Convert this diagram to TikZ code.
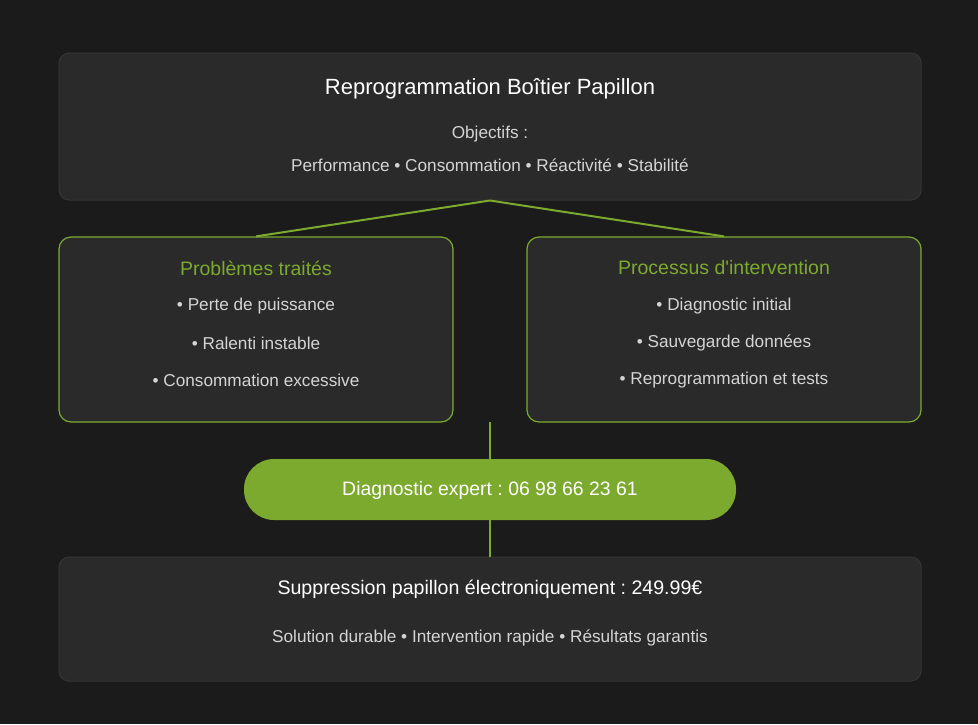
\documentclass[tikz,border=0pt]{standalone}
\usepackage{fontspec}
\setmainfont{Liberation Sans}
\frenchspacing
\definecolor{bgc}{HTML}{1B1B1B}
\definecolor{boxc}{HTML}{2A2A2A}
\definecolor{boxline}{HTML}{353535}
\definecolor{accent}{HTML}{7CAA2E}
\definecolor{txtc}{HTML}{D4D4D4}
\tikzset{
  darkbox/.style={draw=boxline, line width=1pt, fill=boxc, rounded corners=10pt, inner sep=0pt},
  greenbox/.style={draw=accent, line width=1.2pt, fill=boxc, rounded corners=12pt, inner sep=0pt},
  pill/.style={fill=accent, rounded corners=30pt, inner sep=0pt},
  link/.style={draw=accent, line width=2pt},
  titletxt/.style={text=white, font=\fontsize{22}{26}\selectfont, inner sep=0pt},
  subtxt/.style={text=txtc, font=\fontsize{17.2}{20}\selectfont, inner sep=0pt},
  greentitle/.style={text=accent, font=\fontsize{19.5}{23}\selectfont, inner sep=0pt},
  itemtxt/.style={text=txtc, font=\fontsize{17.2}{20}\selectfont, inner sep=0pt},
  pilltxt/.style={text=white, font=\fontsize{19.4}{23}\selectfont, inner sep=0pt},
}
\begin{document}
\begin{tikzpicture}[x=1pt,y=-1pt]
\fill[bgc] (0,0) rectangle (978,724);
\useasboundingbox (0,0) rectangle (978,724);

% boxes
\node[darkbox, minimum width=862pt, minimum height=147pt] (top) at (490,126.5) {};
\node[greenbox, minimum width=394pt, minimum height=185pt] (left) at (256,329.5) {};
\node[greenbox, minimum width=394pt, minimum height=185pt] (right) at (724,329.5) {};
\node[darkbox, minimum width=862pt, minimum height=124pt] (bottom) at (490,619) {};

% connectors
\coordinate (vtop) at (490,422);
\draw[link] (top.south) -- (left.north);
\draw[link] (top.south) -- (right.north);
\draw[link] (vtop) -- (bottom.north);

\node[pill, minimum width=492pt, minimum height=61pt] (call) at (490,489.5) {};

% top texts
\node[titletxt] (t1) at (490,89) {Reprogrammation Boîtier Papillon};
\node[subtxt] (t2) at (490,134) {Objectifs :};
\node[subtxt] (t3) at (490,165) {Performance • Consommation • Réactivité • Stabilité};

% left texts
\node[greentitle] (l0) at (256,268) {Problèmes traités};
\node[itemtxt] (l1) at (256,306) {• Perte de puissance};
\node[itemtxt] (l2) at (256,343) {• Ralenti instable};
\node[itemtxt] (l3) at (256,380) {• Consommation excessive};

% right texts
\node[greentitle] (r0) at (724,268) {Processus d\textquotesingle intervention};
\node[itemtxt] (r1) at (724,306) {• Diagnostic initial};
\node[itemtxt] (r2) at (724,343) {• Sauvegarde données};
\node[itemtxt] (r3) at (724,380) {• Reprogrammation et tests};

% pill text
\node[pilltxt] (p) at (490,490) {Diagnostic expert : 06 98 66 23 61};

% bottom texts
\node[titletxt, font=\fontsize{19.6}{23}\selectfont] (b1) at (490,589) {Suppression papillon électroniquement : 249.99€};
\node[subtxt] (b2) at (490,638) {Solution durable • Intervention rapide • Résultats garantis};
\end{tikzpicture}
\end{document}
